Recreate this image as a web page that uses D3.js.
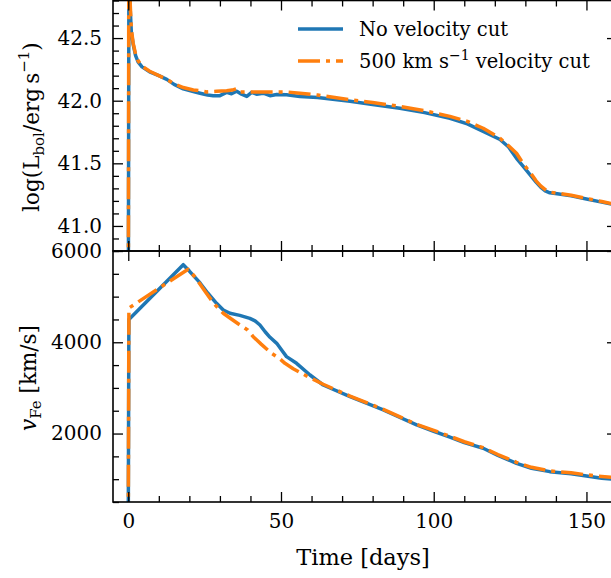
<!DOCTYPE html>
<html><head><meta charset="utf-8">
<script src="https://cdn.jsdelivr.net/npm/d3@7"></script>
<style>
body{margin:0;background:#fff}
svg{display:block}
text{font-family:"DejaVu Serif",serif;fill:#000}
</style></head>
<body><svg id="c" width="611" height="578"></svg>
<script>
// ---- data ----
const seriesNames = ["No velocity cut", "500 km s\u207B\u00B9 velocity cut"];
const colors = ["#1f77b4", "#ff7f0e"];

const lumT_noCut = [0, 0.25, 0.6, 1.0, 1.6, 2.4, 3.2, 4.5, 7, 10, 12.6, 15, 18, 21, 23.5, 26, 27.8, 30, 32.2, 33.8, 35.5, 37.1, 38.8, 40.4, 42, 44.2, 46.4, 48.6, 51.8, 56.2, 62, 72.6, 80, 88.9, 97, 105.3, 111, 116.2, 121.7, 124.5, 127.1, 129.5, 131.5, 133.5, 135, 136.5, 138, 141, 145, 150, 155, 160];
const lumL_noCut = [40.0, 43.6, 42.75, 42.55, 42.45, 42.36, 42.31, 42.27, 42.23, 42.2, 42.17, 42.13, 42.095, 42.075, 42.06, 42.045, 42.04, 42.04, 42.066, 42.055, 42.076, 42.052, 42.034, 42.066, 42.052, 42.06, 42.04, 42.05, 42.047, 42.034, 42.025, 41.995, 41.97, 41.94, 41.905, 41.86, 41.815, 41.755, 41.69, 41.63, 41.54, 41.47, 41.41, 41.35, 41.31, 41.28, 41.265, 41.255, 41.24, 41.215, 41.19, 41.165];

const lumT_cut = [0, 0.2, 0.5, 1.0, 1.6, 2.4, 3.2, 4.5, 7, 10, 12.6, 15, 18, 21.3, 23.5, 25.7, 28.9, 32.2, 34, 35.5, 36.6, 39.8, 45.3, 51.8, 56.2, 62, 72.6, 80, 88.9, 97, 105.3, 111, 116.2, 121.7, 124.5, 127.1, 129.5, 131.5, 133.5, 135, 136.5, 138, 141, 145, 150, 155, 160];
const lumL_cut = [40.0, 43.7, 42.85, 42.57, 42.46, 42.37, 42.32, 42.275, 42.235, 42.2, 42.17, 42.135, 42.105, 42.085, 42.08, 42.07, 42.075, 42.08, 42.085, 42.096, 42.07, 42.07, 42.07, 42.07, 42.06, 42.045, 42.008, 41.985, 41.955, 41.92, 41.875, 41.835, 41.78, 41.70, 41.64, 41.58, 41.49, 41.43, 41.36, 41.32, 41.29, 41.27, 41.26, 41.245, 41.22, 41.195, 41.17];

const velT_noCut = [0, 0.2, 18, 20, 23.5, 26, 28.9, 31.1, 33.3, 36.5, 39.8, 41.5, 43.1, 44.8, 46.4, 48.6, 50.2, 51.8, 55.1, 59.5, 63.8, 72.6, 83.5, 94.4, 100, 105.3, 110, 116.2, 121, 127.1, 132, 138, 145, 150, 155, 160];
const velV_noCut = [0, 4500, 5700, 5560, 5300, 5080, 4854, 4707, 4635, 4590, 4525, 4470, 4378, 4230, 4109, 3977, 3830, 3685, 3539, 3283, 3064, 2808, 2516, 2188, 2050, 1920, 1800, 1677, 1520, 1348, 1240, 1165, 1120, 1070, 1020, 990];

const velT_cut = [0, 0.2, 9.3, 19.6, 22, 25, 28, 30, 31.1, 33.5, 36.6, 39.1, 40.9, 43.5, 46.9, 49.4, 51.3, 54, 58.4, 63.8, 72.6, 83.5, 94.4, 100, 105.3, 110, 116.2, 121, 127.1, 132, 138, 145, 150, 155, 160];
const velV_cut = [0, 4750, 5150, 5600, 5420, 5130, 4850, 4707, 4635, 4520, 4378, 4270, 4122, 3960, 3758, 3650, 3539, 3420, 3260, 3080, 2820, 2530, 2200, 2070, 1940, 1820, 1690, 1540, 1370, 1260, 1180, 1140, 1095, 1060, 1030];

const xDomain = [-5, 160];
const xMajor = [0, 50, 100, 150];
const lumDomain = [40.8, 42.8];
const lumMajor = [41.0, 41.5, 42.0, 42.5];
const velDomain = [500, 6000];
const velMajor = [2000, 4000, 6000];

// ---- layout ----
const svg = d3.select("#c");
const L = 113, R = 617;
const top1 = 0.5, bot1 = 251, top2 = 251, bot2 = 502;

const x = d3.scaleLinear().domain(xDomain).range([L, R]);
const y1 = d3.scaleLinear().domain(lumDomain).range([bot1, top1]);
const y2 = d3.scaleLinear().domain(velDomain).range([bot2, top2]);

const xMinor = d3.range(0, 161, 10).filter(v => !xMajor.includes(v));
const lumMinor = d3.range(40.8, 42.81, 0.1).map(v => +v.toFixed(1)).filter(v => !lumMajor.includes(v));
const velMinor = d3.range(500, 6001, 500).filter(v => !velMajor.includes(v));

const defs = svg.append("defs");
[["c1", top1, bot1], ["c2", top2, bot2]].forEach(([id, t, b]) => {
  defs.append("clipPath").attr("id", id).append("rect")
    .attr("x", L).attr("y", t).attr("width", R - L).attr("height", b - t);
});

function ticks(g, axisFn, scale, vals, size, labels, fmt, pad) {
  const a = axisFn(scale).tickValues(vals).tickSizeInner(-size).tickSizeOuter(0).tickPadding(pad || 10);
  a.tickFormat(labels ? fmt : () => "");
  g.call(a);
  g.select(".domain").remove();
  g.selectAll(".tick line").attr("stroke", "#000").attr("stroke-width", 1.3);
  g.selectAll(".tick text").style("font-family", '"DejaVu Serif", serif').style("font-size", "20px").attr("fill", "#000");
}

function panel(yScale, t, b, yMajor, yMinor, yFmt, showX) {
  const g = svg.append("g");
  ticks(g.append("g").attr("transform", `translate(${L},0)`), d3.axisLeft, yScale, yMajor, 10, true, yFmt, 11);
  ticks(g.append("g").attr("transform", `translate(${L},0)`), d3.axisLeft, yScale, yMinor, 6, false);
  ticks(g.append("g").attr("transform", `translate(${R},0)`), d3.axisRight, yScale, yMajor, 10, false);
  ticks(g.append("g").attr("transform", `translate(${R},0)`), d3.axisRight, yScale, yMinor, 6, false);
  ticks(g.append("g").attr("transform", `translate(0,${b})`), d3.axisBottom, x, xMajor, 10, showX, d3.format("d"), 12);
  ticks(g.append("g").attr("transform", `translate(0,${b})`), d3.axisBottom, x, xMinor, 6, false);
  ticks(g.append("g").attr("transform", `translate(0,${t})`), d3.axisTop, x, xMajor, 10, false);
  ticks(g.append("g").attr("transform", `translate(0,${t})`), d3.axisTop, x, xMinor, 6, false);
  return g;
}

function drawLines(clip, yScale, sets) {
  const g = svg.append("g").attr("clip-path", `url(#${clip})`);
  sets.forEach((s, i) => {
    const pts = s.t.map((tv, k) => [tv, s.v[k]]);
    const line = d3.line().x(d => x(d[0])).y(d => yScale(d[1]));
    const p = g.append("path").datum(pts).attr("d", line)
      .attr("fill", "none").attr("stroke", colors[i]).attr("stroke-width", 3.5)
      .attr("stroke-linejoin", "round");
    if (i === 1) p.attr("stroke-dasharray", "22,6,4,6");
  });
}

drawLines("c1", y1, [{t: lumT_noCut, v: lumL_noCut}, {t: lumT_cut, v: lumL_cut}]);
drawLines("c2", y2, [{t: velT_noCut, v: velV_noCut}, {t: velT_cut, v: velV_cut}]);

panel(y1, top1, bot1, lumMajor, lumMinor, d3.format(".1f"), false);
panel(y2, top2, bot2, velMajor, velMinor, d3.format("d"), true);

[[top1, bot1], [top2, bot2]].forEach(([t, b]) => {
  svg.append("rect").attr("x", L).attr("y", t).attr("width", R - L).attr("height", b - t)
    .attr("fill", "none").attr("stroke", "#000").attr("stroke-width", 1.6);
});

// axis labels
const yl1 = svg.append("text").attr("transform", "translate(39,127) rotate(-90)")
  .attr("text-anchor", "middle").style("font-size", "21.5px");
yl1.append("tspan").text("log(L");
yl1.append("tspan").attr("dy", 5).style("font-size", "15px").text("bol");
yl1.append("tspan").attr("dy", -5).text("/erg\u2009s");
yl1.append("tspan").attr("dy", -10).style("font-size", "15px").text("\u22121");
yl1.append("tspan").attr("dy", 10).text(")");

const yl2 = svg.append("text").attr("transform", "translate(36,378) rotate(-90)")
  .attr("text-anchor", "middle").style("font-size", "21.5px");
yl2.append("tspan").style("font-style", "italic").text("v");
yl2.append("tspan").attr("dy", 5).style("font-size", "15px").text("Fe");
yl2.append("tspan").attr("dy", -5).text(" [km/s]");

svg.append("text").attr("x", 363).attr("y", 565).attr("text-anchor", "middle")
  .style("font-size", "22.5px").text("Time [days]");

// legend
const lg = svg.append("g");
const legY = [29, 61];
legY.forEach((ly, i) => {
  const ln = lg.append("line").attr("x1", 298).attr("x2", 343).attr("y1", ly).attr("y2", ly)
    .attr("stroke", colors[i]).attr("stroke-width", 3.5);
  if (i === 1) ln.attr("stroke-dasharray", "22,6,4,6");
});
lg.append("text").attr("x", 359).attr("y", legY[0] + 7).style("font-size", "19.5px").text(seriesNames[0]);
const t2 = lg.append("text").attr("x", 359).attr("y", legY[1] + 7).style("font-size", "19.5px");
t2.append("tspan").text("500 km s");
t2.append("tspan").attr("dy", -8).style("font-size", "14px").text("\u22121");
t2.append("tspan").attr("dy", 8).text(" velocity cut");
</script></body></html>
